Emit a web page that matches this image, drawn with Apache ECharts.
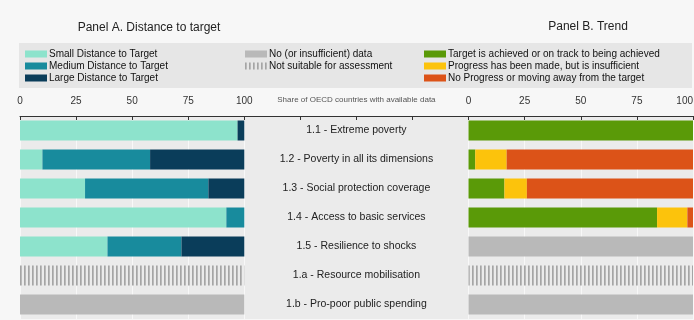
<!DOCTYPE html>
<html>
<head>
<meta charset="utf-8">
<script src="https://cdn.jsdelivr.net/npm/echarts@6/dist/echarts.min.js"></script>
<style>
  html, body { margin: 0; padding: 0; background: #f7f7f7; }
  #chart { width: 694px; height: 320px; }
</style>
</head>
<body>
<div id="chart"></div>
<script>
// SDG 1 targets
const categories = [
  '1.1 - Extreme poverty',
  '1.2 - Poverty in all its dimensions',
  '1.3 - Social protection coverage',
  '1.4 - Access to basic services',
  '1.5 - Resilience to shocks',
  '1.a - Resource mobilisation',
  '1.b - Pro-poor public spending'
];
const xTicks = [0, 25, 50, 75, 100];

// Panel A: distance to target (share of OECD countries, %)
const smallDistance  = [97, 10, 29, 92, 39, null, null];
const mediumDistance = [null, 48, 55, 8, 33, null, null];
const largeDistance  = [3, 42, 16, null, 28, null, null];
const distanceNoData = [null, null, null, null, null, null, 100];
const distanceNotSuitable = [null, null, null, null, null, 100, null];

// Panel B: trend (share of OECD countries, %)
const onTrack      = [100, 3, 16, 84, null, null, null];
const insufficient = [null, 14, 10, 13.5, null, null, null];
const noProgress   = [null, 83, 74, 2.5, null, null, null];
const trendNoData  = [null, null, null, null, 100, null, 100];
const trendNotSuitable = [null, null, null, null, null, 100, null];

const FONT = 'Liberation Sans, Arial, sans-serif';

// vertical hatch used for "not suitable for assessment"
function hatch() {
  const c = document.createElement('canvas');
  c.width = 4; c.height = 4;
  const g = c.getContext('2d');
  g.fillStyle = '#a5a5a5';
  g.fillRect(0, 0, 1.7, 4);
  return { image: c, repeat: 'repeat' };
}
const hatchFill = hatch();

const colors = {
  small: '#8de3cc', medium: '#188b9d', large: '#0a3d5a',
  noData: '#b9b9b9',
  onTrack: '#5a9a08', insufficient: '#fcc30c', noProgress: '#dc5318'
};

const grids = [
  { left: 20, top: 116, width: 224.3, height: 203 },
  { left: 244.3, top: 116, width: 224.2, height: 203 },
  { left: 468.5, top: 116, width: 224.5, height: 203 }
].map(g => Object.assign(g, {
  show: true, backgroundColor: '#ebebeb', borderWidth: 0,
  containLabel: false, outerBoundsMode: 'none'
}));

function xAxis(i, withLabels, extra) {
  return Object.assign({
    gridIndex: i, type: 'value', position: 'top',
    min: xTicks[0], max: xTicks[xTicks.length - 1], interval: 25,
    axisLine: { show: true, onZero: false, lineStyle: { color: '#333', width: 1 } },
    axisTick: { show: true, inside: true, length: 4, lineStyle: { color: '#333' } },
    axisLabel: { show: withLabels, fontSize: 10, color: '#333', margin: 10, fontFamily: FONT },
    splitLine: { show: withLabels, lineStyle: { color: '#f8f8f8', width: 1 } }
  }, extra || {});
}

function yAxis(i) {
  return {
    gridIndex: i, type: 'category', data: categories, inverse: true,
    axisLine: { show: false }, axisTick: { show: false }, axisLabel: { show: false },
    splitLine: { show: false }
  };
}

function bar(name, data, color, grid, stack) {
  return {
    name, type: 'bar', data, stack,
    xAxisIndex: grid, yAxisIndex: grid,
    barWidth: 20,
    itemStyle: { color },
    emphasis: { disabled: true }
  };
}

const legendBase = {
  orient: 'vertical', itemWidth: 22, itemHeight: 7, itemGap: 0, padding: 0,
  icon: 'rect', selectedMode: false,
  textStyle: { fontSize: 10, color: '#111', fontFamily: FONT, lineHeight: 12, padding: [0, 0, 0, -3] }
};

const titleStyle = { fontSize: 12, fontWeight: 'normal', color: '#222', fontFamily: FONT };

const option = {
  animation: false,
  backgroundColor: '#f7f7f7',
  textStyle: { fontFamily: FONT },
  title: [
    { text: 'Panel A. Distance to target', left: 149, top: 22, padding: 0,
      textAlign: 'center', textStyle: titleStyle },
    { text: 'Panel B. Trend', left: 588, top: 21, padding: 0,
      textAlign: 'center', textStyle: titleStyle }
  ],
  graphic: [
    { type: 'rect', left: 19, top: 43, shape: { width: 673, height: 45 },
      style: { fill: '#e6e6e6' }, silent: true, z: -1 }
  ],
  legend: [
    Object.assign({}, legendBase, { left: 25, top: 48,
      data: ['Small Distance to Target', 'Medium Distance to Target', 'Large Distance to Target'] }),
    Object.assign({}, legendBase, { left: 245, top: 48,
      data: ['No (or insufficient) data', 'Not suitable for assessment'] }),
    Object.assign({}, legendBase, { left: 424, top: 48,
      data: ['Target is achieved or on track to being achieved',
             'Progress has been made, but is insufficient',
             'No Progress or moving away from the target'] })
  ],
  grid: grids,
  xAxis: [
    xAxis(0, true),
    xAxis(1, false, {
      name: 'Share of OECD countries with available data',
      nameLocation: 'middle', nameGap: 12,
      nameTextStyle: { fontSize: 8, color: '#555', fontFamily: FONT }
    }),
    xAxis(2, true, {
      axisLabel: { show: true, fontSize: 10, color: '#333', margin: 10, fontFamily: FONT,
                   alignMaxLabel: 'right' }
    })
  ],
  yAxis: [yAxis(0), yAxis(1), yAxis(2)],
  series: [
    bar('Small Distance to Target', smallDistance, colors.small, 0, 'dist'),
    bar('Medium Distance to Target', mediumDistance, colors.medium, 0, 'dist'),
    bar('Large Distance to Target', largeDistance, colors.large, 0, 'dist'),
    bar('No (or insufficient) data', distanceNoData, colors.noData, 0, 'dist'),
    bar('Not suitable for assessment', distanceNotSuitable, hatchFill, 0, 'dist'),

    // target names in the middle column
    {
      name: 'labels', type: 'bar', xAxisIndex: 1, yAxisIndex: 1, silent: true,
      data: categories.map(() => 100), barWidth: 20,
      itemStyle: { color: 'rgba(0,0,0,0)' },
      label: {
        show: true, position: 'inside', formatter: p => p.name,
        color: '#222', fontSize: 10.5, fontFamily: FONT
      }
    },

    bar('Target is achieved or on track to being achieved', onTrack, colors.onTrack, 2, 'trend'),
    bar('Progress has been made, but is insufficient', insufficient, colors.insufficient, 2, 'trend'),
    bar('No Progress or moving away from the target', noProgress, colors.noProgress, 2, 'trend'),
    bar('No (or insufficient) data', trendNoData, colors.noData, 2, 'trend'),
    bar('Not suitable for assessment', trendNotSuitable, hatchFill, 2, 'trend')
  ]
};

const chart = echarts.init(document.getElementById('chart'), null, { renderer: 'canvas' });
chart.setOption(option);
</script>
</body>
</html>
